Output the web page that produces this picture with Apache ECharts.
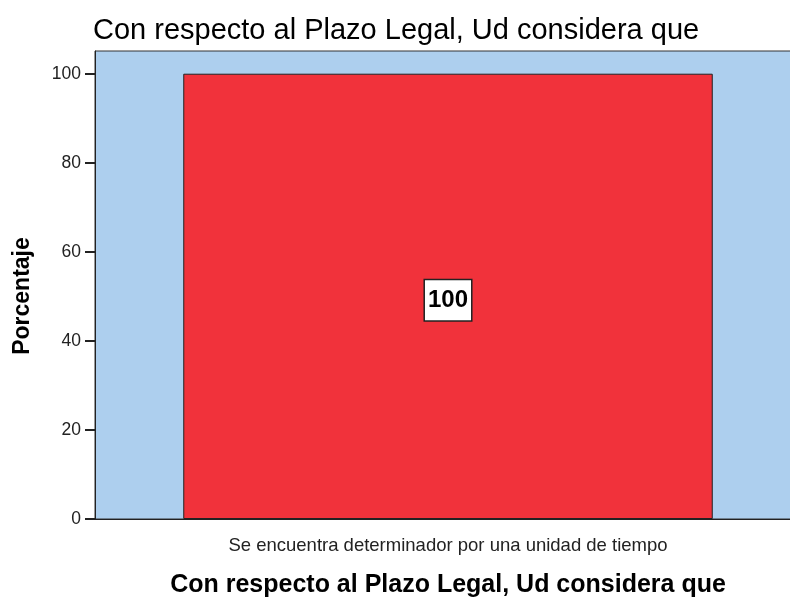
<!DOCTYPE html>
<html>
<head>
<meta charset="utf-8">
<script src="https://cdn.jsdelivr.net/npm/echarts@6/dist/echarts.min.js"></script>
<style>
  html, body { margin: 0; padding: 0; background: #fff; overflow: hidden; }
  /* plot runs past the right edge in the original, so the canvas is a bit wider than the window */
  #chart { width: 801px; height: 603px; }
</style>
</head>
<body>
<div id="chart"></div>
<script>
const categories = ["Se encuentra determinador por una unidad de tiempo"];
const percentages = [100];
const yTicks = [0, 20, 40, 60, 80, 100];

const myChart = echarts.init(document.getElementById("chart"));

const options = {
  backgroundColor: "#fff",
  textStyle: { fontFamily: "Liberation Sans, Arial, sans-serif" },
  title: {
    text: "Con respecto al Plazo Legal, Ud considera que",
    left: 93,
    top: 16,
    padding: 0,
    textStyle: { fontSize: 29, fontWeight: "normal", color: "#000" },
  },
  grid: {
    left: 95,
    right: 0,
    top: 51,
    bottom: 79,
    show: true,
    backgroundColor: "#ADCFEE",
    borderColor: "#333",
    borderWidth: 1,
  },
  xAxis: {
    type: "category",
    data: categories,
    name: "Con respecto al Plazo Legal, Ud considera que",
    nameLocation: "middle",
    nameGap: 54,
    nameTextStyle: { fontSize: 25, fontWeight: "bold", color: "#000" },
    axisLine: { lineStyle: { color: "#222" } },
    axisTick: { alignWithLabel: true, length: 9, lineStyle: { color: "#222" } },
    axisLabel: { fontSize: 18.5, color: "#222", margin: 17 },
  },
  yAxis: {
    type: "value",
    min: 0,
    max: 105.1,
    name: "Porcentaje",
    nameLocation: "middle",
    nameGap: 61,
    nameTextStyle: { fontSize: 23, fontWeight: "bold", color: "#000", padding: [0, 22, 0, 0] },
    splitLine: { show: false },
    axisLine: { show: true, lineStyle: { color: "#222" } },
    axisTick: { show: true, length: 10, customValues: yTicks, lineStyle: { color: "#222", width: 2 } },
    axisLabel: {
      fontSize: 17.5,
      color: "#222",
      margin: 14,
      customValues: yTicks,
    },
  },
  series: [
    {
      type: "bar",
      data: percentages,
      barWidth: "75%",
      itemStyle: {
        color: "#F1323B",
        borderColor: "#222",
        borderWidth: 1,
      },
      label: {
        show: true,
        position: "inside",
        offset: [0, 4],
        fontSize: 24,
        fontWeight: "bold",
        color: "#000",
        backgroundColor: "#fff",
        borderColor: "#222",
        borderWidth: 1.5,
        padding: [8, 3, 8, 3],
      },
    },
  ],
};
myChart.setOption(options);
</script>
</body>
</html>
